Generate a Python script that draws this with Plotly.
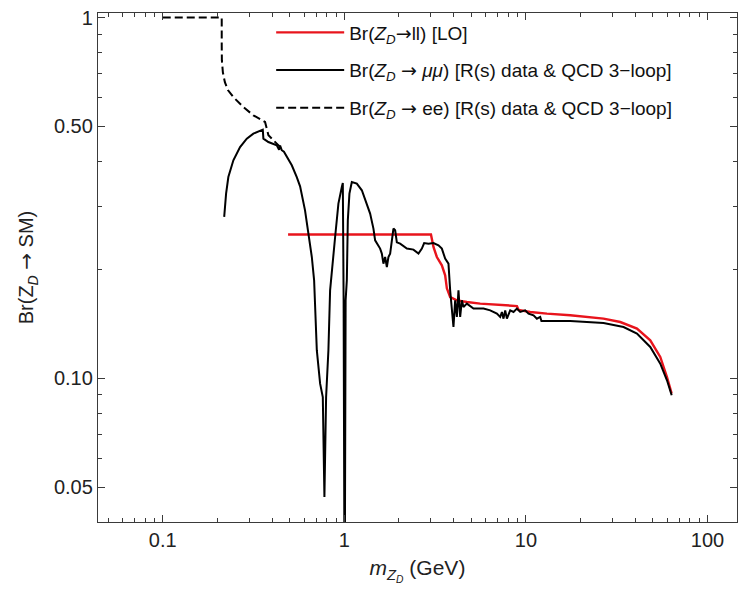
import plotly.graph_objects as go

# ---- data ----
lo_x = [0.49, 3.0, 3.097, 3.233, 3.444, 3.592, 3.670, 3.827, 4.167, 4.730, 5.601,
        6.922, 8.922, 9.104, 10.56, 13.05, 17.54, 26.76, 33.08, 40.89, 48.40,
        54.95, 59.83, 63.5]
lo_y = [0.2504, 0.2504, 0.2313, 0.2170, 0.2058, 0.1931, 0.1777, 0.1681, 0.1646,
        0.1628, 0.1612, 0.1600, 0.1587, 0.1549, 0.1528, 0.1512, 0.1496, 0.1464,
        0.1433, 0.1374, 0.1275, 0.1147, 0.1009, 0.0908]

mumu_x = [0.218, 0.2233, 0.2298, 0.2449, 0.2666, 0.2903, 0.3156, 0.3437, 0.3556,
          0.3584, 0.3818, 0.4246, 0.4373, 0.4430, 0.4524, 0.4650, 0.4822, 0.5137,
          0.5472, 0.5707, 0.6076, 0.6341, 0.6622, 0.6818, 0.7055, 0.7357, 0.7612,
          0.7770, 0.7937, 0.8173, 0.835, 0.8899, 0.9278, 0.9688, 0.9811, 0.9911,
          1.004, 1.0167, 1.0323, 1.0454, 1.0669, 1.0998, 1.1719, 1.2487, 1.3305,
          1.3871, 1.4465, 1.4779, 1.5747, 1.6091, 1.6421, 1.6780, 1.7147, 1.7498,
          1.7878, 1.8269, 1.8643, 1.9050, 1.9467, 2.0297, 2.2103, 2.4033, 2.5603,
          2.6730, 2.7523, 2.9073, 3.0968, 3.2994, 3.4443, 3.5919, 3.7457, 3.8269,
          3.9106, 3.9908, 4.0780, 4.1666, 4.2527, 4.3451, 4.4400, 4.5308, 4.7303,
          5.1441, 5.8414, 6.3592, 6.9216, 7.2180, 7.3759, 7.5270, 7.6913, 7.8581,
          8.1950, 8.5456, 8.9216, 9.3037, 9.9106, 10.335, 11.013, 11.498, 11.990,
          12.174, 13.613, 17.543, 26.764, 34.490, 40.891, 48.398, 54.951, 59.830,
          63.5]
mumu_y = [0.2802, 0.3252, 0.3615, 0.4022, 0.4378, 0.4620, 0.4770, 0.4850, 0.4893,
          0.4620, 0.4520, 0.4426, 0.4300, 0.4420, 0.4290, 0.4250, 0.4109, 0.3897,
          0.3615, 0.3406, 0.2923, 0.2520, 0.2170, 0.1870, 0.1197, 0.0967, 0.0888,
          0.0469, 0.0888, 0.1197, 0.1754, 0.2465, 0.3050, 0.3392, 0.3479, 0.1646,
          0.0200, 0.1646, 0.1870, 0.2743, 0.3252, 0.3502, 0.3467, 0.3322, 0.3050,
          0.2862, 0.2602, 0.2414, 0.2290, 0.2218, 0.2080, 0.2170, 0.2036, 0.2170,
          0.2218, 0.2414, 0.2602, 0.2573, 0.2383, 0.2363, 0.2290, 0.2275, 0.2218,
          0.2290, 0.2372, 0.2363, 0.2372, 0.2338, 0.2290, 0.2148, 0.2080, 0.1754,
          0.1577, 0.1388, 0.1646, 0.1480, 0.1754, 0.1480, 0.1646, 0.1577, 0.1612,
          0.1561, 0.1561, 0.1544, 0.1512, 0.1480, 0.1528, 0.1464, 0.1544, 0.1464,
          0.1544, 0.1528, 0.1561, 0.1528, 0.1544, 0.1512, 0.1496, 0.1464, 0.1480,
          0.1442, 0.1442, 0.1442, 0.1424, 0.1388, 0.1331, 0.1222, 0.1099, 0.0988,
          0.0898]

ee_x = [0.1, 0.2113, 0.2113, 0.2117, 0.2144, 0.2199, 0.2290, 0.2449, 0.278, 0.3156,
        0.366, 0.382, 0.4246, 0.4524]
ee_y = [1.0, 1.0, 0.838, 0.761, 0.705, 0.662, 0.629, 0.602, 0.565, 0.536,
        0.5136, 0.472, 0.4474, 0.4334]

x_ticks = [0.1, 1, 10, 100]
x_ticktext = ["0.1", "1", "10", "100"]
y_ticks = [0.05, 0.1, 0.5, 1]
y_ticktext = ["0.05", "0.10", "0.50", "1"]
x_minor = [0.05, 0.06, 0.07, 0.08, 0.09, 0.2, 0.3, 0.4, 0.5, 0.6, 0.7, 0.8, 0.9,
           2, 3, 4, 5, 6, 7, 8, 9, 20, 30, 40, 50, 60, 70, 80, 90]
y_minor = [0.06, 0.07, 0.08, 0.09, 0.2, 0.3, 0.4, 0.6, 0.7, 0.8, 0.9]

ARROW = '<span style="font-family:DejaVu Sans">→</span>'
names = ["Br(<i>Z<sub>D</sub></i>" + ARROW + "ll) [LO]",
         "Br(<i>Z<sub>D</sub></i> " + ARROW + " <i>μμ</i>) [R(s) data &amp; QCD 3−loop]",
         "Br(<i>Z<sub>D</sub></i> " + ARROW + " ee) [R(s) data &amp; QCD 3−loop]"]

FONT = "Liberation Sans, Arial, sans-serif"
FRAME = "#3a3a3a"

fig = go.Figure()
fig.add_trace(go.Scatter(x=lo_x, y=lo_y, mode="lines", name=names[0], legendgroup="a",
                         line=dict(color="#e8141c", width=2.4)))
fig.add_trace(go.Scatter(x=mumu_x, y=mumu_y, mode="lines", name=names[1], legendgroup="b",
                         line=dict(color="black", width=2)))
fig.add_trace(go.Scatter(x=ee_x, y=ee_y, mode="lines", name=names[2], legendgroup="c",
                         line=dict(color="black", width=2, dash="8px,4px")))

axis_common = dict(
    type="log", showgrid=False, zeroline=False, showline=True, linecolor=FRAME,
    linewidth=1.3, mirror="ticks", ticks="inside", ticklen=7, tickwidth=1.1,
    tickcolor=FRAME, tickfont=dict(family=FONT, size=20, color="#222"),
)

fig.update_xaxes(**axis_common, range=[-1.3565, 2.1625], tickmode="array",
                 tickvals=x_ticks, ticktext=x_ticktext,
                 minor=dict(tickmode="array", tickvals=x_minor, ticks="inside",
                            ticklen=4, tickwidth=1, tickcolor=FRAME, showgrid=False),
                 title=dict(text="<i>m</i><sub><i>Z<sub>D</sub></i></sub> (GeV)",
                            font=dict(family=FONT, size=21, color="#222"), standoff=10))
fig.update_yaxes(**axis_common, range=[-1.398, 0.01275], tickmode="array",
                 tickvals=y_ticks, ticktext=y_ticktext,
                 minor=dict(tickmode="array", tickvals=y_minor, ticks="inside",
                            ticklen=4, tickwidth=1, tickcolor=FRAME, showgrid=False),
                 title=dict(text="Br(Z<sub><i>D</i></sub> " + ARROW + " SM)",
                            font=dict(family=FONT, size=20, color="#222"), standoff=14))

fig.update_layout(
    width=741, height=589,
    margin=dict(l=98, r=4, t=13, b=67),
    paper_bgcolor="white", plot_bgcolor="white",
    showlegend=True,
    legend=dict(x=0.271, y=0.999, xanchor="left", yanchor="top",
                bgcolor="rgba(0,0,0,0)", borderwidth=0, tracegroupgap=10,
                itemwidth=68,
                font=dict(family=FONT, size=19, color="#111")),
)

fig.write_html("out.html")
